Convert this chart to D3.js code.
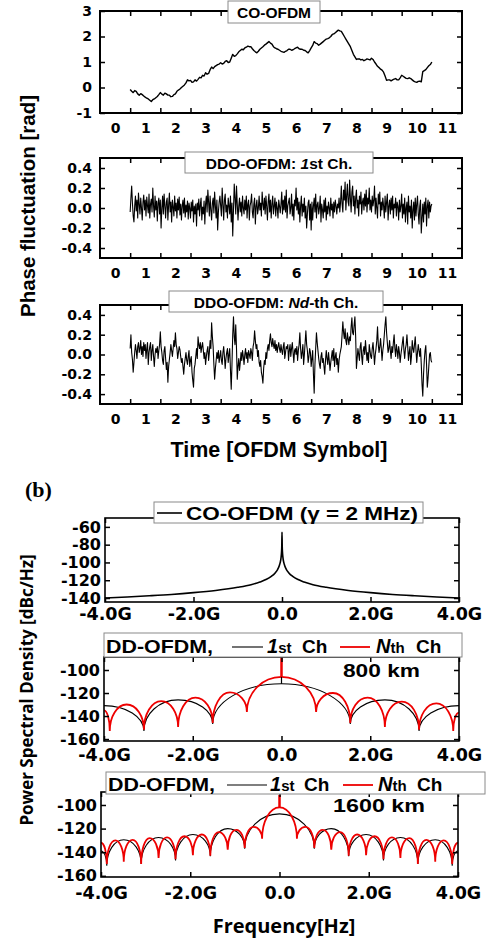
<!DOCTYPE html>
<html>
<head>
<meta charset="utf-8">
<script src="https://cdn.jsdelivr.net/npm/d3@7"></script>
<style>
  body { margin: 0; background: #fff; }
  text { font-family: "Liberation Sans", Arial, sans-serif; font-weight: bold; }
</style>
</head>
<body>
<div id="chart"></div>
<script>
// ---- time-domain panels (a): samples run evenly from t = 0.5 to 10.5 ----
const timeFirst = 0.5, timeLast = 10.5;
const timeTicks = [0.5, 1.5, 2.5, 3.5, 4.5, 5.5, 6.5, 7.5, 8.5, 9.5, 10.5];
const timeLabels = [0, 1, 2, 3, 4, 5, 6, 7, 8, 9, 10, 11];

const coPhase = [
  -0.08,-0.15,-0.2,-0.12,-0.15,-0.25,-0.3,-0.24,-0.28,-0.33,-0.38,-0.42,-0.45,-0.5,-0.55,-0.48,-0.45,-0.4,-0.35,-0.28,
  -0.2,-0.26,-0.3,-0.22,-0.25,-0.3,-0.3,-0.36,-0.35,-0.28,-0.25,-0.15,-0.1,-0.06,0.0,0.05,0.1,0.18,0.3,0.26,
  0.28,0.2,0.22,0.3,0.25,0.32,0.4,0.38,0.48,0.45,0.58,0.52,0.55,0.7,0.8,0.74,0.82,0.86,0.9,0.92,
  0.97,0.92,0.95,1.02,1.05,0.98,1.0,1.15,1.3,1.22,1.25,1.32,1.4,1.45,1.5,1.48,1.55,1.58,1.62,1.6,
  1.6,1.52,1.45,1.4,1.36,1.42,1.5,1.55,1.6,1.66,1.7,1.75,1.8,1.74,1.7,1.6,1.55,1.52,1.5,1.46,
  1.42,1.4,1.38,1.42,1.45,1.5,1.5,1.46,1.48,1.52,1.55,1.58,1.52,1.5,1.5,1.46,1.45,1.4,1.36,1.45,
  1.55,1.65,1.8,1.74,1.72,1.66,1.7,1.75,1.8,1.85,1.9,1.92,1.95,2.0,2.08,2.1,2.15,2.2,2.25,2.22,
  2.2,2.1,2.0,1.9,1.8,1.7,1.6,1.45,1.3,1.2,1.1,1.12,1.12,1.08,1.1,1.05,1.08,1.12,1.1,1.08,
  1.15,1.1,1.0,0.92,0.83,0.78,0.72,0.68,0.6,0.45,0.28,0.3,0.3,0.26,0.3,0.33,0.35,0.3,0.3,0.38,
  0.48,0.44,0.4,0.36,0.35,0.38,0.35,0.3,0.25,0.22,0.2,0.24,0.25,0.22,0.62,0.66,0.7,0.78,0.85,0.9,
  1.0
];

const ddoFirst = [
  -0.04,0.10,0.22,0.05,-0.08,-0.14,0.02,0.12,-0.03,0.08,-0.10,0.15,0.04,-0.06,0.10,0.00,-0.12,0.06,0.13,-0.02,
  0.08,-0.08,0.11,0.02,-0.05,0.14,-0.10,0.04,0.09,-0.04,0.20,0.02,-0.09,0.12,-0.02,0.07,-0.13,0.05,0.10,-0.06,
  0.08,-0.20,0.00,0.12,-0.06,0.14,0.02,-0.10,0.06,0.10,-0.12,0.03,0.15,-0.04,0.06,-0.14,0.08,0.01,-0.08,0.12,
  -0.03,0.05,-0.10,0.09,-0.02,0.11,-0.07,0.04,-0.12,0.02,0.08,-0.05,0.10,-0.09,0.03,-0.04,0.07,-0.11,0.05,0.00,
  -0.10,0.06,-0.03,0.08,-0.14,0.02,-0.06,0.04,-0.18,0.05,-0.02,0.09,-0.08,0.03,0.10,-0.12,0.01,-0.06,0.07,-0.16,
  0.04,0.12,-0.04,0.18,0.06,-0.08,0.12,-0.02,-0.12,0.05,0.10,-0.05,0.16,0.02,-0.10,0.08,-0.22,-0.04,0.06,0.12,
  0.02,-0.08,0.20,0.04,-0.12,0.08,0.14,-0.04,0.03,-0.10,0.10,0.02,-0.06,0.12,-0.14,0.05,-0.28,-0.02,0.24,0.10,
  -0.06,0.22,0.04,-0.12,0.02,0.10,-0.04,0.06,-0.08,0.12,0.00,-0.06,0.08,-0.02,0.12,-0.10,0.04,0.08,-0.12,0.02,
  0.06,0.14,-0.04,-0.10,0.04,0.10,-0.16,0.02,0.08,-0.06,0.00,0.12,-0.02,0.05,-0.08,0.16,0.04,-0.02,0.10,-0.06,
  0.12,0.02,-0.12,0.06,0.14,-0.04,0.08,-0.10,0.04,0.12,-0.06,0.02,0.10,-0.08,0.06,0.00,-0.10,0.08,0.02,-0.05,
  0.04,0.16,-0.06,0.08,-0.02,0.12,-0.04,0.18,-0.10,0.02,0.06,0.10,-0.06,0.00,0.14,-0.08,0.04,-0.12,0.08,0.02,
  0.20,-0.02,0.10,-0.06,0.06,-0.14,0.02,0.12,-0.08,0.04,-0.04,0.10,-0.10,0.02,-0.20,-0.06,0.05,0.08,-0.12,0.04,
  -0.22,0.06,-0.12,0.02,0.10,-0.04,0.14,-0.10,0.03,0.06,-0.06,0.00,0.12,-0.14,0.04,-0.02,-0.10,0.08,-0.04,0.10,
  -0.12,0.02,-0.06,0.06,0.00,-0.08,0.10,-0.02,0.04,-0.10,0.06,-0.04,0.08,0.02,-0.06,0.04,0.00,0.10,-0.04,0.06,
  0.22,0.04,-0.04,0.18,0.08,0.26,-0.02,0.12,0.24,0.06,0.02,0.28,0.10,-0.04,0.16,0.22,0.02,0.12,-0.06,0.10,
  0.18,0.00,0.08,-0.08,0.12,0.04,0.16,-0.06,0.06,0.10,-0.02,0.14,0.02,0.18,-0.04,0.10,0.04,0.20,-0.02,0.08,
  -0.04,0.12,0.02,0.08,0.22,-0.06,0.10,0.00,-0.10,0.14,0.04,0.16,-0.08,0.06,-0.02,0.10,0.02,-0.10,0.12,-0.04,
  0.06,0.14,-0.12,0.02,0.08,-0.06,0.10,-0.02,0.12,-0.10,0.04,0.00,0.10,-0.08,0.06,0.02,-0.12,0.08,-0.04,0.02,
  0.14,-0.10,0.04,-0.06,0.10,-0.14,0.00,0.06,-0.16,0.12,-0.04,0.02,-0.10,0.08,-0.20,-0.02,0.06,-0.12,0.10,-0.08,
  0.04,0.12,-0.06,-0.16,0.02,0.08,-0.25,-0.10,0.04,-0.14,0.06,-0.06,0.10,-0.18,0.02,0.08,-0.10,0.06,-0.04,0.02,
  0.04
];

const ddoLast = [
  0.06,0.20,0.02,-0.05,-0.18,-0.08,0.02,0.10,0.04,-0.04,0.08,0.12,0.02,0.06,0.14,0.00,0.08,-0.02,0.12,0.04,
  0.10,-0.04,0.06,0.12,-0.10,0.02,0.08,0.12,-0.06,0.04,0.10,-0.02,-0.12,0.00,0.06,0.02,0.08,-0.04,0.04,0.10,
  0.23,0.08,0.02,-0.06,-0.10,0.04,0.08,-0.04,-0.15,-0.08,-0.28,-0.12,-0.05,0.02,0.10,0.04,-0.02,0.06,0.14,0.08,
  0.22,0.10,0.06,-0.04,0.02,0.08,0.05,-0.02,-0.08,-0.04,-0.12,-0.20,-0.10,-0.04,0.02,-0.06,-0.10,-0.02,0.04,-0.12,
  -0.06,-0.02,-0.18,-0.26,-0.33,-0.14,-0.10,-0.02,0.06,-0.04,0.18,0.10,0.06,0.12,0.02,0.08,0.12,0.04,-0.04,0.02,
  -0.10,-0.02,0.04,0.08,-0.06,0.02,0.14,0.06,0.32,0.18,0.08,-0.10,-0.25,-0.14,-0.06,0.02,-0.04,0.04,-0.08,-0.02,
  0.04,-0.06,-0.10,0.02,0.08,-0.02,-0.14,-0.04,0.02,0.06,-0.08,0.00,0.06,-0.16,-0.35,-0.10,0.20,0.38,0.18,0.10,
  0.30,0.06,-0.25,-0.12,-0.04,-0.16,-0.08,0.02,-0.06,0.04,-0.02,-0.10,0.00,0.06,-0.04,0.02,-0.08,0.04,0.00,-0.04,
  0.06,0.02,-0.06,0.08,0.12,0.24,0.14,0.06,0.10,-0.02,0.04,-0.08,-0.12,-0.06,-0.18,-0.22,-0.29,-0.14,-0.06,-0.10,
  0.02,-0.04,0.06,0.10,0.04,0.14,0.21,0.12,0.08,0.16,0.10,0.06,0.14,0.04,0.10,0.02,0.08,0.12,0.06,0.02,
  0.10,0.04,0.00,0.08,0.12,-0.04,0.02,0.08,0.06,0.10,-0.06,0.04,0.10,-0.02,0.06,0.12,0.02,-0.08,0.04,0.06,
  0.00,0.08,-0.06,0.04,0.10,0.22,0.06,-0.04,0.02,0.10,-0.10,0.00,0.12,0.24,0.10,0.04,-0.08,-0.02,0.06,0.02,
  -0.12,-0.04,0.04,-0.20,-0.39,-0.10,0.06,0.22,0.12,0.04,-0.04,-0.10,-0.14,-0.02,0.02,-0.08,-0.04,-0.12,-0.20,-0.06,
  0.04,-0.04,-0.10,0.02,-0.06,-0.16,-0.08,-0.02,0.04,-0.06,0.06,-0.12,-0.02,0.02,-0.10,-0.04,-0.18,-0.06,0.00,0.04,
  0.08,0.20,0.33,0.22,0.16,0.26,0.14,0.10,0.22,0.16,0.10,0.18,0.14,0.28,0.37,0.22,0.20,0.30,0.38,0.18,
  -0.14,-0.04,0.06,0.00,-0.06,0.08,0.12,-0.02,-0.10,0.04,0.08,0.00,0.14,0.04,-0.06,0.02,-0.08,0.10,0.04,-0.02,
  -0.04,0.06,0.12,0.02,-0.10,0.00,0.06,0.14,0.28,0.10,0.02,0.08,0.16,0.06,-0.06,0.04,0.10,0.20,0.30,0.38,
  0.22,0.12,0.02,0.06,0.14,0.04,-0.04,0.08,0.02,0.12,0.20,0.06,-0.02,0.10,0.04,-0.04,0.08,0.02,-0.08,0.00,
  0.06,0.12,0.18,0.04,-0.04,0.06,0.10,0.20,0.08,-0.06,0.02,0.08,-0.10,-0.02,0.14,0.06,0.02,0.10,0.18,0.04,
  -0.08,0.02,0.10,0.04,-0.02,0.06,-0.10,-0.30,-0.42,-0.20,-0.06,0.04,0.09,-0.10,-0.33,-0.24,-0.12,0.00,0.02,-0.06,
  -0.08
];

// ---- spectra panels (b), frequency in GHz, PSD in dBc/Hz ----
const freqTicks = [-4, -2, 0, 2, 4];
const freqLabels = ["-4.0G", "-2.0G", "0.0", "2.0G", "4.0G"];
const psdTicksCo = [-60, -80, -100, -120, -140];
const psdTicksDd = [-100, -120, -140, -160];

const coFreq = [-4,-3.5,-3,-2.5,-2,-1.5,-1,-0.7,-0.5,-0.35,-0.25,-0.15,-0.1,-0.06,-0.04,-0.02,-0.01,-0.005,0,
                0.005,0.01,0.02,0.04,0.06,0.1,0.15,0.25,0.35,0.5,0.7,1,1.5,2,2.5,3,3.5,4];
const coPsd = [-140,-138.8,-137.5,-136,-134,-131.5,-128,-125,-122,-119,-116,-111.5,-108,-103.5,-100,-94,-88,-82,-66,
               -82,-88,-94,-100,-103.5,-108,-111.5,-116,-119,-122,-125,-128,-131.5,-134,-136,-137.5,-138.8,-140];

// lobes: alternating lobe tops and nulls
const firstFreq800 = [-4, -3.1, -2.33, -1.55, 0, 1.55, 2.33, 3.1, 4];
const firstPsd800  = [-131, -153, -126, -147, -112, -147, -126, -153, -131];
const lastFreq800 = [-4,-3.87,-3.49,-3.1,-2.71,-2.33,-1.94,-1.55,-1.16,-0.78,0,0.78,1.16,1.55,1.94,2.33,2.71,3.1,3.49,3.87,4];
const lastPsd800  = [-135,-153,-130,-152,-127,-149.5,-124,-146,-119.5,-136.5,-106,-136.5,-120,-146,-124,-149.5,-127.5,-152,-129,-153,-137];

const firstFreq1600 = [-4,-3.87,-3.49,-3.1,-2.71,-2.33,-1.94,-1.55,-1.16,-0.78,0,0.78,1.16,1.55,1.94,2.33,2.71,3.1,3.49,3.87,4];
const firstPsd1600  = [-139,-151.5,-129.5,-150,-127.5,-147,-125,-143.5,-120,-137,-107.5,-137,-120,-143.5,-125,-147,-127.5,-150,-129.5,-151.5,-139];
const lastFreq1600 = [-4,-3.87,-3.68,-3.49,-3.29,-3.1,-2.91,-2.71,-2.52,-2.33,-2.13,-1.94,-1.74,-1.55,-1.36,-1.16,-0.97,-0.78,-0.58,-0.39,0,
                      0.39,0.58,0.78,0.97,1.16,1.36,1.55,1.74,1.94,2.13,2.33,2.52,2.71,2.91,3.1,3.29,3.49,3.68,3.87,4];
const lastPsd1600  = [-132,-150,-130,-148,-129.5,-150,-128,-145,-127.5,-146,-126.5,-142.5,-125,-143,-123,-138,-121,-136.5,-118.6,-128.5,-102,
                      -128.5,-118.6,-136.5,-121,-138,-123,-143,-125,-142.5,-126.5,-146,-127.5,-145,-128,-150,-129.5,-148,-130,-150,-132];

// carrier spikes at 0 Hz: [bottom, top]
const spikeFirst800 = [-112, -106];
const spikeLast800 = [-106, -89];
const spikeLast1600 = [-102, -91.5];

const W = 488, H = 939;
const svg = d3.select("#chart").append("svg").attr("width", W).attr("height", H);

const tickFont = "'DejaVu Sans', Verdana, sans-serif";
const hyphen = d => String(d);

function styleAxis(g, size) {
  g.select(".domain").remove();
  g.selectAll(".tick line").attr("stroke", "#000").attr("stroke-width", 1.5);
  g.selectAll(".tick text").attr("fill", "#000")
    .style("font-family", tickFont).style("font-weight", "bold").style("font-size", size + "px");
}

function titleBox(x0, y0, x1, y1) {
  svg.append("rect").attr("x", x0).attr("y", y0).attr("width", x1 - x0).attr("height", y1 - y0)
    .attr("fill", "#fff").attr("stroke", "#8a8a8a").attr("stroke-width", 1);
}

// ---------- (a) time panels ----------
const tx = d3.scaleLinear().domain([-0.5, 11.5]).range([100, 462]);

function timePanel(values, yDomain, yTicks, fmt, top, bottom, width) {
  const y = d3.scaleLinear().domain(yDomain).range([bottom, top]);
  const t = d3.scaleLinear().domain([0, values.length - 1]).range([timeFirst, timeLast]);
  const line = d3.line().x((d, i) => tx(t(i))).y(d => y(d));
  svg.append("path").datum(values).attr("d", line)
    .attr("fill", "none").attr("stroke", "#000").attr("stroke-width", width).attr("stroke-linejoin", "round");

  svg.append("g").attr("transform", `translate(0,${bottom})`)
    .call(d3.axisBottom(tx).tickValues(timeTicks).tickSize(-5).tickFormat(""))
    .call(g => styleAxis(g, 13));
  svg.append("g").attr("transform", `translate(0,${top})`)
    .call(d3.axisTop(tx).tickValues(timeTicks).tickSize(-5).tickFormat(""))
    .call(g => styleAxis(g, 13));
  svg.append("g").attr("transform", `translate(0,${bottom})`)
    .call(d3.axisBottom(tx).tickValues(timeLabels).tickSize(0).tickPadding(10).tickFormat(hyphen))
    .call(g => styleAxis(g, 14));
  svg.append("g").attr("transform", `translate(${tx.range()[0]},0)`)
    .call(d3.axisLeft(y).tickValues(yTicks).tickSize(-5).tickPadding(8).tickFormat(fmt))
    .call(g => styleAxis(g, 14));
  svg.append("g").attr("transform", `translate(${tx.range()[1]},0)`)
    .call(d3.axisRight(y).tickValues(yTicks).tickSize(-5).tickFormat(""))
    .call(g => styleAxis(g, 14));

  svg.append("rect").attr("x", tx.range()[0]).attr("y", top)
    .attr("width", tx.range()[1] - tx.range()[0]).attr("height", bottom - top)
    .attr("fill", "none").attr("stroke", "#000").attr("stroke-width", 2);
}

timePanel(coPhase, [-1, 3], [-1, 0, 1, 2, 3], hyphen, 11, 113, 1.4);
timePanel(ddoFirst, [-0.5, 0.5], [-0.4, -0.2, 0, 0.2, 0.4], d => d.toFixed(1), 158, 258, 1.1);
timePanel(ddoLast, [-0.5, 0.5], [-0.4, -0.2, 0, 0.2, 0.4], d => d.toFixed(1), 305, 404, 1.1);

titleBox(228, 1, 320, 23);
svg.append("text").attr("x", 274).attr("y", 18).attr("text-anchor", "middle")
  .style("font-size", "15.5px").text("CO-OFDM");
titleBox(185, 152, 373, 173);
svg.append("text").attr("x", 279).attr("y", 169).attr("text-anchor", "middle").style("font-size", "15.5px")
  .call(t => { t.append("tspan").text("DDO-OFDM: "); t.append("tspan").style("font-style", "italic").text("1");
               t.append("tspan").text("st Ch."); });
titleBox(169, 291, 383, 312);
svg.append("text").attr("x", 276).attr("y", 308).attr("text-anchor", "middle").style("font-size", "15.5px")
  .call(t => { t.append("tspan").text("DDO-OFDM: "); t.append("tspan").style("font-style", "italic").text("Nd");
               t.append("tspan").text("-th Ch."); });

svg.append("text").attr("transform", "translate(35,206) rotate(-90)").attr("text-anchor", "middle")
  .style("font-size", "20.5px").text("Phase fluctuation [rad]");
svg.append("text").attr("x", 279).attr("y", 457).attr("text-anchor", "middle")
  .style("font-size", "21.5px").text("Time [OFDM Symbol]");

// ---------- (b) spectra panels ----------
svg.append("text").attr("x", 25).attr("y", 497)
  .style("font-family", "'Liberation Serif', 'Times New Roman', serif").style("font-size", "22px").text("(b)");

function lobePath(fs, ps, x, y) {
  // quarter-ellipse arcs between lobe tops and nulls
  const k = 0.5523, p = d3.path();
  p.moveTo(x(fs[0]), y(ps[0]));
  for (let i = 1; i < fs.length; i++) {
    const x0 = x(fs[i - 1]), y0 = y(ps[i - 1]), x1 = x(fs[i]), y1 = y(ps[i]);
    if (ps[i] < ps[i - 1]) p.bezierCurveTo(x0 + k * (x1 - x0), y0, x1, y1 - k * (y1 - y0), x1, y1);
    else p.bezierCurveTo(x0, y0 + k * (y1 - y0), x1 - k * (x1 - x0), y1, x1, y1);
  }
  return p.toString();
}

function psdPanel(id, x0, x1, top, bottom, yDomain, yTicks, labelPad) {
  const x = d3.scaleLinear().domain([-4, 4]).range([x0, x1]);
  const y = d3.scaleLinear().domain(yDomain).range([bottom, top]);
  svg.append("clipPath").attr("id", id).append("rect")
    .attr("x", x0).attr("y", top).attr("width", x1 - x0).attr("height", bottom - top);
  const g = svg.append("g").attr("clip-path", `url(#${id})`);

  svg.append("g").attr("transform", `translate(0,${bottom})`)
    .call(d3.axisBottom(x).tickValues(freqTicks).tickSize(-5).tickPadding(labelPad).tickFormat((d, i) => freqLabels[i]))
    .call(a => styleAxis(a, 17.5));
  svg.append("g").attr("transform", `translate(0,${top})`)
    .call(d3.axisTop(x).tickValues(freqTicks).tickSize(-5).tickFormat(""))
    .call(a => styleAxis(a, 17.5));
  svg.append("g").attr("transform", `translate(${x0},0)`)
    .call(d3.axisLeft(y).tickValues(yTicks).tickSize(-5).tickPadding(4).tickFormat(hyphen))
    .call(a => styleAxis(a, 16));
  svg.append("g").attr("transform", `translate(${x1},0)`)
    .call(d3.axisRight(y).tickValues(yTicks).tickSize(-5).tickFormat(""))
    .call(a => styleAxis(a, 16));
  return { g, x, y, frame: () => svg.append("rect").attr("x", x0).attr("y", top)
      .attr("width", x1 - x0).attr("height", bottom - top)
      .attr("fill", "none").attr("stroke", "#000").attr("stroke-width", 1.6) };
}

// CO-OFDM spectrum
const p4 = psdPanel("clip4", 105, 459, 518, 602, [-144.5, -50], psdTicksCo, 6);
p4.g.append("path").datum(coFreq.map((f, i) => [f, coPsd[i]]))
  .attr("d", d3.line().x(d => p4.x(d[0])).y(d => p4.y(d[1])).curve(d3.curveMonotoneX))
  .attr("fill", "none").attr("stroke", "#000").attr("stroke-width", 1.6);
p4.frame();

// 800 km
const p5 = psdPanel("clip5", 104, 459, 657, 741, [-161.7, -88.7], psdTicksDd, 8);
p5.g.append("path").attr("d", lobePath(firstFreq800, firstPsd800, p5.x, p5.y))
  .attr("fill", "none").attr("stroke", "#000").attr("stroke-width", 1.1);
p5.g.append("path").attr("d", lobePath(lastFreq800, lastPsd800, p5.x, p5.y))
  .attr("fill", "none").attr("stroke", "#ee0000").attr("stroke-width", 1.8);
p5.g.append("line").attr("x1", p5.x(0)).attr("x2", p5.x(0))
  .attr("y1", p5.y(spikeLast800[0])).attr("y2", p5.y(spikeLast800[1])).attr("stroke", "#ee0000").attr("stroke-width", 2.5);
p5.g.append("line").attr("x1", p5.x(0)).attr("x2", p5.x(0))
  .attr("y1", p5.y(spikeFirst800[0])).attr("y2", p5.y(spikeFirst800[1])).attr("stroke", "#000").attr("stroke-width", 1.2);
p5.frame();

// 1600 km
const p6 = psdPanel("clip6", 101, 458, 792, 877, [-161, -89], psdTicksDd, 10);
p6.g.append("path").attr("d", lobePath(firstFreq1600, firstPsd1600, p6.x, p6.y))
  .attr("fill", "none").attr("stroke", "#000").attr("stroke-width", 1.1);
p6.g.append("path").attr("d", lobePath(lastFreq1600, lastPsd1600, p6.x, p6.y))
  .attr("fill", "none").attr("stroke", "#ee0000").attr("stroke-width", 1.8);
p6.g.append("line").attr("x1", p6.x(0)).attr("x2", p6.x(0))
  .attr("y1", p6.y(spikeLast1600[0])).attr("y2", p6.y(spikeLast1600[1])).attr("stroke", "#ee0000").attr("stroke-width", 2.5);
p6.frame();

// legends
titleBox(154, 502, 423, 523);
svg.append("line").attr("x1", 157).attr("x2", 182).attr("y1", 513).attr("y2", 513).attr("stroke", "#000").attr("stroke-width", 1.6);
svg.append("text").attr("x", 186).attr("y", 520).style("font-size", "18px")
  .attr("textLength", 232).attr("lengthAdjust", "spacingAndGlyphs").text("CO-OFDM (\u03b3 = 2 MHz)");

function ddLegend(x0, y0, x1, y1, base, seg1, seg2, pos) {
  titleBox(x0, y0, x1, y1);
  const ly = base - 6;
  svg.append("line").attr("x1", seg1[0]).attr("x2", seg1[1]).attr("y1", ly).attr("y2", ly).attr("stroke", "#000").attr("stroke-width", 1.1);
  svg.append("line").attr("x1", seg2[0]).attr("x2", seg2[1]).attr("y1", ly).attr("y2", ly).attr("stroke", "#ee0000").attr("stroke-width", 1.8);
  svg.append("text").attr("x", x0 + 2).attr("y", base).style("font-size", "19px")
    .attr("textLength", 107).attr("lengthAdjust", "spacingAndGlyphs").text("DD-OFDM,");
  const t = svg.append("text").attr("y", base).style("font-size", "19px");
  t.append("tspan").attr("x", pos[0]).style("font-style", "italic").style("font-size", "20px").text("1");
  t.append("tspan").style("font-size", "15px").text("st");
  t.append("tspan").attr("x", pos[1]).text("Ch");
  t.append("tspan").attr("x", pos[2]).style("font-style", "italic").style("font-size", "20px").text("N");
  t.append("tspan").style("font-size", "15px").text("th");
  t.append("tspan").attr("x", pos[3]).text("Ch");
}
ddLegend(104, 633, 462, 657, 653, [232, 263], [340, 370], [267, 302, 376, 416]);
ddLegend(106, 772, 485, 794, 791, [227, 267], [343, 373], [270, 304, 378, 417]);

svg.append("text").attr("x", 343).attr("y", 677).style("font-size", "19px")
  .attr("textLength", 77).attr("lengthAdjust", "spacingAndGlyphs").text("800 km");
svg.append("text").attr("x", 333).attr("y", 812).style("font-size", "19px")
  .attr("textLength", 92).attr("lengthAdjust", "spacingAndGlyphs").text("1600 km");

svg.append("text").attr("transform", "translate(33,690) rotate(-90)").attr("text-anchor", "middle")
  .style("font-family", "'Open Sans', sans-serif").style("font-weight", 700).style("font-size", "17px")
  .text("Power Spectral Density [dBc/Hz]");
svg.append("text").attr("x", 284).attr("y", 933).attr("text-anchor", "middle")
  .style("font-family", "'Open Sans', sans-serif").style("font-weight", 700).style("font-size", "20px")
  .text("Frequency[Hz]");
</script>
</body>
</html>
